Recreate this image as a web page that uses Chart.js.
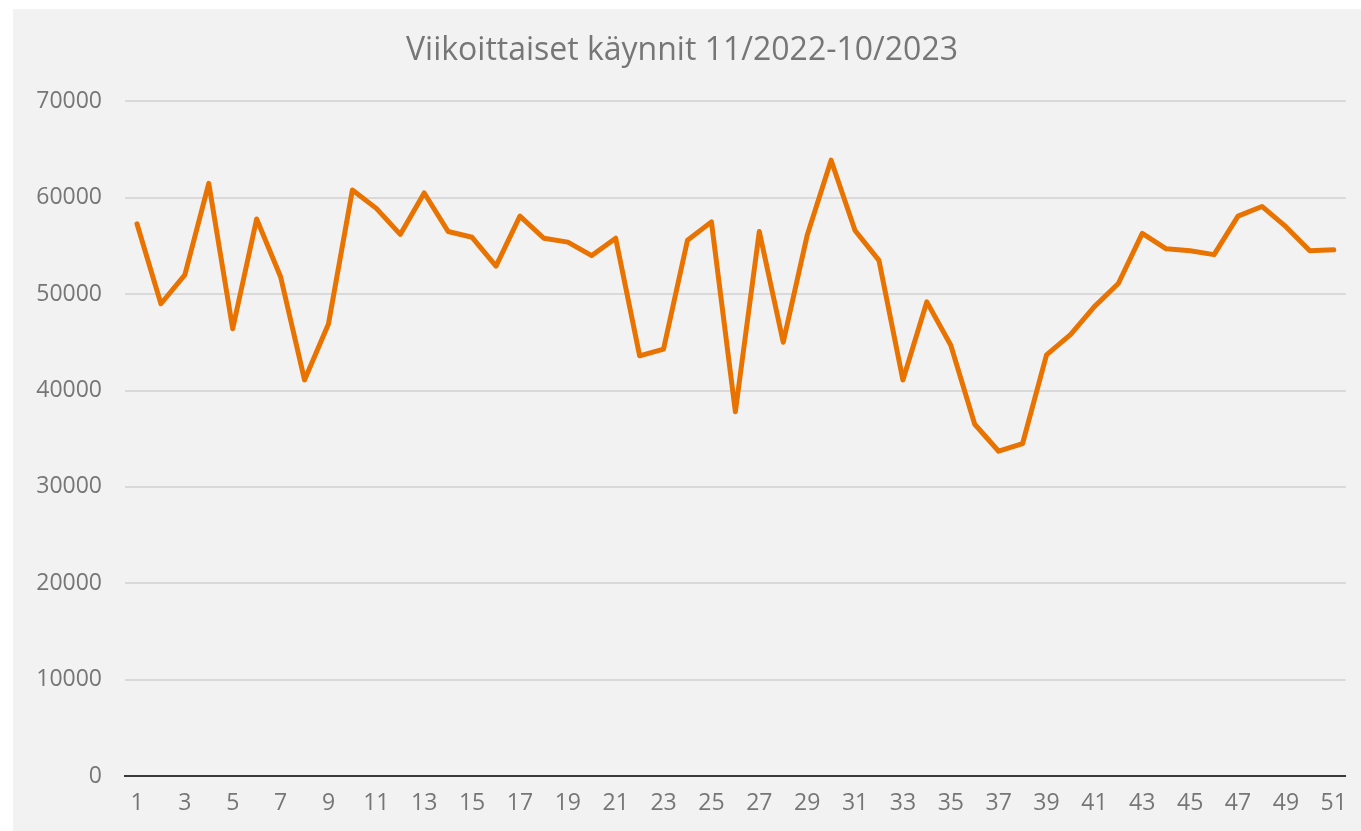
<!DOCTYPE html>
<html>
<head>
<meta charset="utf-8">
<script src="https://cdn.jsdelivr.net/npm/chart.js@4/dist/chart.umd.min.js"></script>
<style>
  html, body { margin: 0; padding: 0; background: #ffffff; }
  #wrap { position: absolute; left: 13px; top: 9px; width: 1348px; height: 822px; background: #f2f2f2; }
  canvas { display: block; }
</style>
</head>
<body>
<div id="wrap"><canvas id="c" width="1348" height="822"></canvas></div>
<script>
const title = "Viikoittaiset käynnit 11/2022-10/2023";
const weeks = ["1","2","3","4","5","6","7","8","9","10","11","12","13","14","15","16","17","18","19","20","21","22","23","24","25","26","27","28","29","30","31","32","33","34","35","36","37","38","39","40","41","42","43","44","45","46","47","48","49","50","51"];
const visits = [57300, 49000, 52000, 61500, 46400, 57800, 51800, 41100, 46900, 60800,
                58900, 56200, 60500, 56500, 55900, 52900, 58100, 55800, 55400, 54000,
                55800, 43600, 44300, 55600, 57500, 37800, 56500, 45000, 56100, 63900,
                56600, 53500, 41100, 49200, 44700, 36500, 33700, 34500, 43700, 45800,
                48700, 51100, 56300, 54700, 54500, 54100, 58100, 59100, 57000, 54500,
                54600];
const yTicks = [0, 10000, 20000, 30000, 40000, 50000, 60000, 70000];

const FONT = "'Open Sans', sans-serif";
const GREY = "#767676";

new Chart(document.getElementById('c'), {
  type: 'line',
  data: {
    labels: weeks,
    datasets: [{
      label: 'Käynnit',
      data: visits,
      borderColor: '#E97300',
      backgroundColor: '#E97300',
      borderWidth: 5,
      pointRadius: 0,
      tension: 0,
      borderJoinStyle: 'round',
      borderCapStyle: 'round'
    }]
  },
  options: {
    responsive: false,
    animation: false,
    layout: { padding: { left: 0, right: 10, top: 0, bottom: 0 } },
    plugins: {
      legend: { display: false },
      tooltip: { enabled: false },
      title: {
        display: true,
        text: title,
        color: GREY,
        font: { family: FONT, size: 32, weight: 'normal', lineHeight: 1.2 },
        padding: { top: 23, bottom: 31 }
      }
    },
    scales: {
      x: {
        offset: true,
        grid: { display: false, drawTicks: false },
        border: { display: true, color: '#3a3a3a', width: 2 },
        ticks: {
          autoSkip: false,
          maxRotation: 0,
          padding: 14,
          color: GREY,
          font: { family: FONT, size: 23 },
          callback: function(v, i) { return (i % 2 === 0) ? weeks[i] : ''; }
        },
        afterFit: function(s) { s.height = 55; }
      },
      y: {
        min: 0,
        max: 70000,
        afterBuildTicks: function(s) { s.ticks = yTicks.map(v => ({ value: v })); },
        grid: { color: '#d9d9d9', lineWidth: 2, drawTicks: false },
        border: { display: false },
        ticks: {
          padding: 23,
          color: GREY,
          font: { family: FONT, size: 23 },
          callback: function(v) { return String(v); }
        },
        afterFit: function(s) { s.width = 112; }
      }
    }
  }
});
</script>
</body>
</html>
